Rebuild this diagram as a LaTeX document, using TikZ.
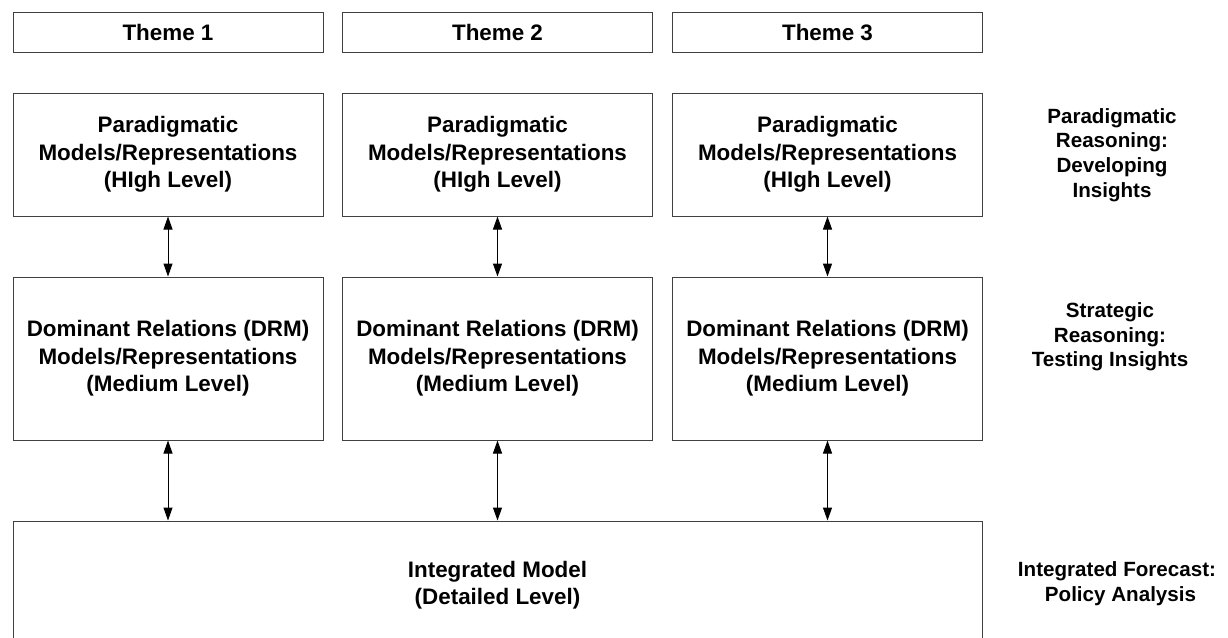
\documentclass[tikz,border=0pt]{standalone}
\usepackage{fontspec}
\setmainfont{Liberation Sans}
\usetikzlibrary{arrows.meta}
\begin{document}
\begin{tikzpicture}[x=1pt,y=-1pt,
  boxtext/.style={font=\fontsize{22.4}{27.5}\selectfont\bfseries, align=center},
  sidetext/.style={font=\fontsize{20.6}{24.7}\selectfont\bfseries, align=center},
  panel/.style={boxtext, draw=black!75, line width=1pt, fill=white, inner sep=0pt,
    minimum width=310pt},
  themebox/.style={panel, minimum height=40pt, text height=16pt, text depth=0pt},
  highbox/.style={panel, minimum height=123pt},
  midbox/.style={panel, minimum height=163pt},
  link/.style={line width=1pt, {Triangle[length=13pt,width=9pt]}-{Triangle[length=13pt,width=9pt]}}
]
\useasboundingbox (0,0) rectangle (1228,637);
\clip (0,0) rectangle (1228,637);
\fill[white] (0,0) rectangle (1228,637);

% theme headers
\node[themebox] (t1) at (168,32)   {Theme 1};
\node[themebox] (t2) at (497.5,32) {Theme 2};
\node[themebox] (t3) at (827.5,32) {Theme 3};

% high level models
\node[highbox] (h1) at (168,154.5)   {Paradigmatic\\Models/Representations\\(HIgh Level)};
\node[highbox] (h2) at (497.5,154.5) {Paradigmatic\\Models/Representations\\(HIgh Level)};
\node[highbox] (h3) at (827.5,154.5) {Paradigmatic\\Models/Representations\\(HIgh Level)};

% medium level models
\node[midbox] (m1) at (168,358.5)   {Dominant Relations (DRM)\\Models/Representations\\(Medium Level)};
\node[midbox] (m2) at (497.5,358.5) {Dominant Relations (DRM)\\Models/Representations\\(Medium Level)};
\node[midbox] (m3) at (827.5,358.5) {Dominant Relations (DRM)\\Models/Representations\\(Medium Level)};

% integrated model (runs off the lower edge)
\node[panel, minimum width=969pt, minimum height=128pt] (im) at (497.5,585)
  {Integrated Model\\(Detailed Level)};

% two-way links
\draw[link] (h1.south) -- (m1.north);
\draw[link] (h2.south) -- (m2.north);
\draw[link] (h3.south) -- (m3.north);
\draw[link] (m1.south) -- (m1.south |- im.north);
\draw[link] (m2.south) -- (m2.south |- im.north);
\draw[link] (m3.south) -- (m3.south |- im.north);

% reasoning levels
\node[sidetext] (r1) at (1112,155) {Paradigmatic\\Reasoning:\\Developing\\Insights};
\node[sidetext] (r2) at (1110,337) {Strategic\\Reasoning:\\Testing Insights};
\node[sidetext] (r3) at (1117,584) {Integrated Forecast:\\\hspace*{7pt}Policy Analysis};
\end{tikzpicture}
\end{document}
